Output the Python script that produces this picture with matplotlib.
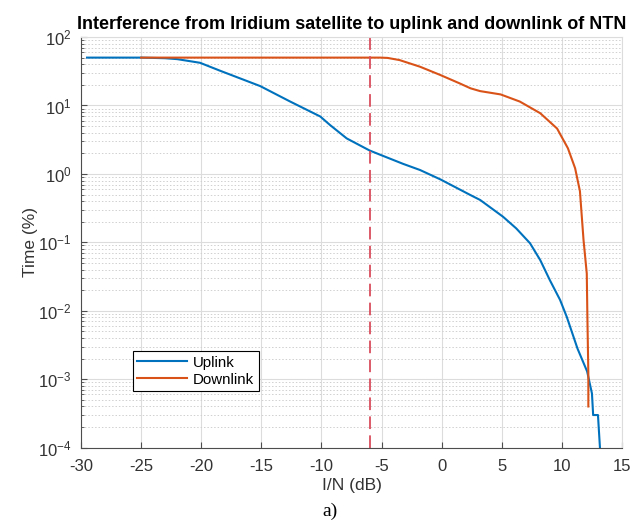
import numpy as np
import matplotlib
matplotlib.use("Agg")
import matplotlib.pyplot as plt
import matplotlib.ticker as mticker

plt.rcParams["font.family"] = ["Liberation Sans", "DejaVu Sans"]
plt.rcParams["axes.unicode_minus"] = False

# CDF curves of interference level (I/N) for Iridium -> NTN links
uplink_in = [-29.5, -25.0, -23.0, -22.0, -20.1, -18.4, -15.1, -12.6, -10.1, -9.3, -7.9,
             -6.0, -5.1, -3.2, -1.8, -0.1, 2.4, 3.2, 5.1, 6.2, 7.35, 8.2, 9.0,
             9.85, 10.4, 11.3, 12.1, 12.5, 12.6, 13.0, 13.2]
uplink_time = [50, 50, 49, 47.5, 42, 32, 19.2, 11.4, 6.9, 5.2, 3.3,
               2.2, 1.9, 1.4, 1.14, 0.83, 0.49, 0.416, 0.237, 0.16, 0.097, 0.055, 0.028,
               0.0144, 0.0082, 0.0028, 0.0013, 0.00062, 0.0003, 0.0003, 0.00008]

downlink_in = [-25.0, -5.1, -4.5, -3.5, -1.8, -0.1, 1.5, 2.4, 3.2, 4.9, 6.5, 8.2,
               9.6, 10.5, 11.1, 11.5, 11.8, 12.07, 12.12, 12.2, 12.2]
downlink_time = [50, 50, 49.5, 46, 36.8, 27.8, 21, 17.8, 16.2, 14.5, 11.4, 7.7,
                 4.6, 2.37, 1.21, 0.56, 0.108, 0.035, 0.0082, 0.0012, 0.0004]

protection_in = -6  # I/N criterion (dB)

fig = plt.figure(figsize=(6.39, 5.31), dpi=100)
ax = fig.add_axes([0.1268, 0.1569, 0.8466, 0.7734])

ax.semilogy(uplink_in, uplink_time, color="#0072BD", lw=1.5, label="Uplink")
ax.semilogy(downlink_in, downlink_time, color="#D95319", lw=1.5, label="Downlink")
ax.axvline(protection_in, color="#d94c5c", lw=1.3, ls=(0, (7, 3.5)))

ax.set_xlim(-30, 15)
ax.set_ylim(1e-4, 1e2)
ax.set_xticks(np.arange(-30, 16, 5))
ax.yaxis.set_major_locator(mticker.LogLocator(base=10, numticks=10))
ax.yaxis.set_minor_locator(mticker.LogLocator(base=10, subs=np.arange(2, 10), numticks=20))
ax.yaxis.set_minor_formatter(mticker.NullFormatter())

ax.grid(which="major", color="#dcdcdc", lw=0.8, ls="-")
ax.grid(which="minor", axis="y", color="#d0d0d0", lw=0.7, ls=(0, (1.5, 2)))
ax.set_axisbelow(True)

for s in ("top", "right"):
    ax.spines[s].set_color("#dcdcdc")
for s in ("left", "bottom"):
    ax.spines[s].set_color("#4d4d4d")

ax.tick_params(which="both", direction="in", colors="#4d4d4d", labelsize=12,
               top=False, right=False)
ax.tick_params(which="major", length=4)
ax.tick_params(which="minor", length=2)
ax.tick_params(axis="x", pad=8)
ax.tick_params(axis="y", pad=7)
for lab in ax.get_xticklabels() + ax.get_yticklabels():
    lab.set_color("#333333")

ax.set_title("Interference from Iridium satellite to uplink and downlink of NTN",
             fontsize=13, fontweight="bold", pad=6)
ax.set_xlabel("I/N (dB)", fontsize=12.5, color="#333333", labelpad=3)
ax.set_ylabel("Time (%)", fontsize=12.5, color="#333333", labelpad=0)

leg = ax.legend(loc="lower left", bbox_to_anchor=(0.096, 0.138), borderaxespad=0,
                fontsize=10.8, fancybox=False, edgecolor="black", framealpha=1,
                handlelength=3.3, borderpad=0.3, labelspacing=0.2, handletextpad=0.4)
leg.get_frame().set_linewidth(0.8)

fig.text(0.516, 0.0377, "a)", family=["Liberation Serif"], fontsize=14,
         ha="center", va="center")

fig.savefig("out.png", dpi=100)
